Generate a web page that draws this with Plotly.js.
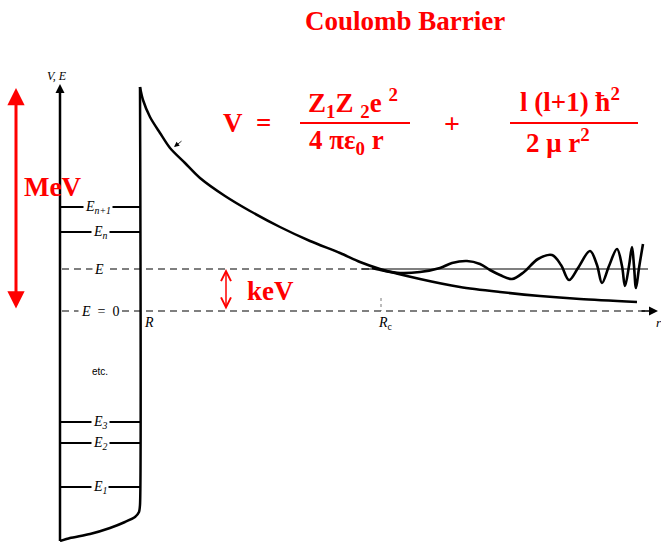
<!DOCTYPE html>
<html>
<head>
<meta charset="utf-8">
<script src="https://cdn.plot.ly/plotly-3.0.1.min.js"></script>
<style>html,body{margin:0;padding:0;background:#fff;}#chart{width:661px;height:542px;}</style>
</head>
<body>
<div id="chart"></div>
<script>
// ---- Data (diagram coordinates) ----
// Left V,E axis
const axisX = [60, 60];
const axisY = [541, 92];
// Nuclear well wall + bottom
const wallX = [140, 140, 139, 135, 125, 110, 90, 70, 60];
const wallY = [87, 505, 512, 517, 522, 528, 534, 538, 541];
// Coulomb barrier curve
const barrierX = [140, 143, 150, 160, 170, 185, 200, 225, 250, 280, 310, 340, 360, 380, 420, 460, 500, 540, 580, 637];
const barrierY = [87, 100, 117, 133, 148, 163, 178, 196, 211, 227, 241, 253, 262, 269, 279, 287, 292, 296, 299, 302];
// Bound levels inside well
const levelNames = ['E<sub>n+1</sub>', 'E<sub>n</sub>', 'E<sub>3</sub>', 'E<sub>2</sub>', 'E<sub>1</sub>'];
const levelY = [207, 232, 422, 443, 487];
const levelLabelX = [98, 100, 100, 100, 100];
// Energy E and E = 0
const energyE = 269;
const energyZero = 311;
const wellLeft = 60, wellRight = 140;
const rc = 381;
const rEnd = 655;
// Wave function beyond Rc
const waveX = [372, 385, 400, 420, 440, 452, 467, 480, 490, 500, 512, 524, 538, 552, 561, 569, 578, 590, 597, 602, 609, 617, 622, 625, 629, 632, 634, 636, 639, 643];
const waveY = [268, 271, 273, 272, 268, 263, 261, 264, 270, 275, 279, 272, 259, 255, 265, 280, 268, 251, 265, 283, 266, 249, 266, 286, 266, 247, 266, 288, 268, 244];

// ---- Traces ----
const black = '#000';
const red = '#ff0000';
const traces = [];
traces.push({x: axisX, y: axisY, mode: 'lines', line: {color: black, width: 2.5}, hoverinfo: 'skip'});
traces.push({x: wallX, y: wallY, mode: 'lines', line: {color: black, width: 2.5, shape: 'spline', smoothing: 0.6}, hoverinfo: 'skip'});
traces.push({x: barrierX, y: barrierY, mode: 'lines', line: {color: black, width: 2.5, shape: 'spline', smoothing: 0.8}, hoverinfo: 'skip'});
// levels
const lvX = [], lvY = [];
levelY.forEach(v => { lvX.push(wellLeft, wellRight, null); lvY.push(v, v, null); });
traces.push({x: lvX, y: lvY, mode: 'lines', line: {color: black, width: 2}, hoverinfo: 'skip'});
// E dashed and continuation
traces.push({x: [wellLeft + 2, rc], y: [energyE, energyE], mode: 'lines', line: {color: black, width: 1.2, dash: '7px,5px'}, hoverinfo: 'skip'});
traces.push({x: [rc - 20, 648], y: [energyE, energyE], mode: 'lines', line: {color: black, width: 1.1}, hoverinfo: 'skip'});
// E = 0 dashed
traces.push({x: [wellLeft + 2, rEnd - 10], y: [energyZero, energyZero], mode: 'lines', line: {color: black, width: 1.2, dash: '7px,5px'}, hoverinfo: 'skip'});
// Rc dotted marker
traces.push({x: [rc, rc], y: [298, energyZero], mode: 'lines', line: {color: '#555', width: 0.8, dash: 'dot'}, hoverinfo: 'skip'});
// wave
traces.push({x: waveX, y: waveY, mode: 'lines', line: {color: black, width: 2.6, shape: 'spline', smoothing: 1}, hoverinfo: 'skip'});
// fraction bars
traces.push({x: [300, 410, null, 510, 638], y: [123, 123, null, 123, 123], mode: 'lines', line: {color: red, width: 2}, hoverinfo: 'skip'});

// ---- Annotations ----
const serif = 'Liberation Serif, Times New Roman, serif';
const ann = [];
function txt(x, y, t, size, color, opts) {
  ann.push(Object.assign({x: x, y: y, xref: 'x', yref: 'y', text: t, showarrow: false,
    font: {family: serif, size: size, color: color}, xanchor: 'center', yanchor: 'middle'}, opts || {}));
}
// Title
txt(405, 21, '<b>Coulomb Barrier</b>', 27, red);
// Formula
txt(233, 123, '<b>V</b>', 27, red);
txt(263, 123, '<b>=</b>', 27, red);
txt(353, 103, '<b>Z<sub>1</sub>Z <sub>2</sub>e <sup>2</sup></b>', 27, red);
txt(346, 142, '<b>4 πε<sub>0</sub> r</b>', 27, red);
txt(452, 123, '<b>+</b>', 28, red);
txt(570, 100, '<b>l (l+1) ħ<sup>2</sup></b>', 27, red);
txt(558, 141, '<b>2 μ r<sup>2</sup></b>', 27, red);
// MeV / keV
txt(52, 187, '<b>MeV</b>', 27, red);
txt(270, 291, '<b>keV</b>', 27, red);
// black labels
txt(57, 76, '<i>V, E</i>', 12, black);
levelY.forEach((v, i) => txt(levelLabelX[i], v, '<i>' + levelNames[i] + '</i>', 14, black, {bgcolor: '#fff', borderpad: 1}));
txt(99, energyE, '<i>E</i>', 14, black, {bgcolor: '#fff', borderpad: 1});
txt(100, energyZero, '<i>E</i>  =  0', 14, black, {bgcolor: '#fff', borderpad: 2});
txt(100, 371, 'etc.', 10, black, {font: {family: 'Liberation Sans, Arial, sans-serif', size: 10, color: black}});
txt(149, 322, '<i>R</i>', 14, black);
txt(385, 323, '<i>R</i><sub>c</sub>', 14, black);
txt(659, 322, '<i>r</i>', 13, black);
// arrows
function arrow(x, y, ax, ay, color, width, head, size, side) {
  ann.push({x: x, y: y, ax: ax, ay: ay, xref: 'x', yref: 'y', axref: 'x', ayref: 'y', text: '',
    showarrow: true, arrowcolor: color, arrowwidth: width, arrowhead: head, arrowsize: size,
    startarrowhead: head, startarrowsize: size, arrowside: side || 'end'});
}
arrow(16, 88, 16, 310, red, 3, 2, 1.15, 'end+start');
arrow(226, 269, 226, 311, red, 1.5, 5, 1.3, 'end+start');
arrow(60, 84, 60, 100, black, 1.5, 2, 1.2);
arrow(658, energyZero, 640, energyZero, black, 1.5, 2, 1.2);
arrow(174, 147, 183, 140, black, 0.8, 2, 1.3);

const layout = {
  width: 661, height: 542,
  margin: {l: 0, r: 0, t: 0, b: 0},
  paper_bgcolor: '#fff', plot_bgcolor: '#fff',
  showlegend: false,
  xaxis: {range: [0, 661], visible: false, fixedrange: true},
  yaxis: {range: [542, 0], visible: false, fixedrange: true},
  annotations: ann
};
Plotly.newPlot('chart', traces, layout, {staticPlot: true, displayModeBar: false});
</script>
</body>
</html>
